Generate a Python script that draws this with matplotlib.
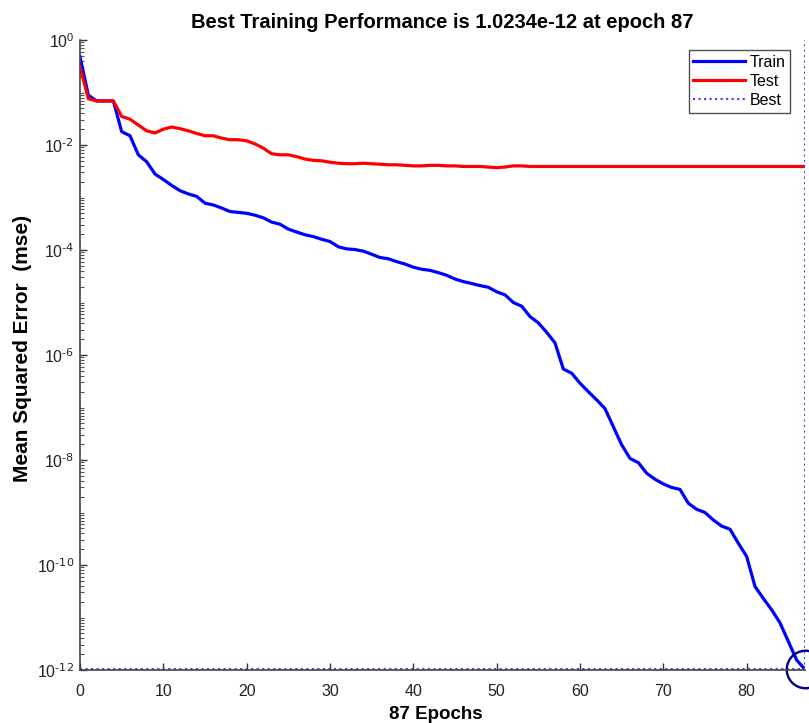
import matplotlib
matplotlib.use('Agg')
import matplotlib.pyplot as plt
from matplotlib.ticker import FixedLocator, LogLocator, NullFormatter

plt.rcParams['font.family'] = ['Liberation Sans', 'DejaVu Sans']
plt.rcParams['mathtext.default'] = 'regular'

# performance record (87 epochs)
epochs = list(range(0, 88))
train_mse = [
    4.8e-1, 8.9e-2, 6.9e-2, 6.9e-2, 6.9e-2, 1.8e-2, 1.5e-2, 6.5e-3, 4.8e-3, 2.8e-3,
    2.2e-3, 1.7e-3, 1.35e-3, 1.17e-3, 1.05e-3, 7.8e-4, 7.2e-4, 6.3e-4, 5.4e-4, 5.2e-4,
    5.0e-4, 4.6e-4, 4.1e-4, 3.4e-4, 3.1e-4, 2.5e-4, 2.2e-4, 1.95e-4, 1.8e-4, 1.6e-4,
    1.45e-4, 1.15e-4, 1.05e-4, 1.02e-4, 9.5e-5, 8.3e-5, 7.2e-5, 6.8e-5, 6.0e-5, 5.4e-5,
    4.7e-5, 4.3e-5, 4.1e-5, 3.7e-5, 3.3e-5, 2.8e-5, 2.5e-5, 2.3e-5, 2.1e-5, 1.95e-5,
    1.6e-5, 1.4e-5, 1.0e-5, 8.5e-6, 5.4e-6, 4.1e-6, 2.7e-6, 1.7e-6, 5.4e-7, 4.5e-7,
    2.9e-7, 2.0e-7, 1.4e-7, 9.5e-8, 4.3e-8, 1.95e-8, 1.07e-8, 8.9e-9, 5.6e-9, 4.3e-9,
    3.5e-9, 3.0e-9, 2.75e-9, 1.5e-9, 1.15e-9, 1.0e-9, 7.2e-10, 5.5e-10, 4.8e-10, 2.6e-10,
    1.45e-10, 3.9e-11, 2.3e-11, 1.4e-11, 7.9e-12, 3.5e-12, 1.55e-12, 1.0234e-12,
]
test_mse = [
    3.1e-1, 7.6e-2, 6.9e-2, 6.9e-2, 6.9e-2, 3.5e-2, 3.1e-2, 2.4e-2, 1.86e-2, 1.7e-2,
    2.0e-2, 2.2e-2, 2.05e-2, 1.86e-2, 1.66e-2, 1.5e-2, 1.5e-2, 1.35e-2, 1.26e-2, 1.26e-2,
    1.2e-2, 1.05e-2, 8.7e-3, 6.8e-3, 6.5e-3, 6.5e-3, 6.0e-3, 5.4e-3, 5.1e-3, 5.0e-3,
    4.7e-3, 4.5e-3, 4.4e-3, 4.4e-3, 4.5e-3, 4.4e-3, 4.3e-3, 4.2e-3, 4.2e-3, 4.1e-3,
    4.0e-3, 4.0e-3, 4.1e-3, 4.1e-3, 4.0e-3, 4.0e-3, 3.9e-3, 3.9e-3, 3.9e-3, 3.8e-3,
    3.7e-3, 3.8e-3, 4.0e-3, 4.0e-3, 3.9e-3, 3.9e-3, 3.9e-3, 3.9e-3, 3.9e-3, 3.9e-3,
    3.9e-3, 3.9e-3, 3.9e-3, 3.9e-3, 3.9e-3, 3.9e-3, 3.9e-3, 3.9e-3, 3.9e-3, 3.9e-3,
    3.9e-3, 3.9e-3, 3.9e-3, 3.9e-3, 3.9e-3, 3.9e-3, 3.9e-3, 3.9e-3, 3.9e-3, 3.9e-3,
    3.9e-3, 3.9e-3, 3.9e-3, 3.9e-3, 3.9e-3, 3.9e-3, 3.9e-3, 3.9e-3,
]
best_epoch = 87
best_perf = 1.0234e-12
xticks = [0, 10, 20, 30, 40, 50, 60, 70, 80]
yticks = [1e0, 1e-2, 1e-4, 1e-6, 1e-8, 1e-10, 1e-12]
ytick_labels = ['$10^{0}$', '$10^{\\text{-2}}$', '$10^{\\text{-4}}$', '$10^{\\text{-6}}$',
                '$10^{\\text{-8}}$', '$10^{\\text{-10}}$', '$10^{\\text{-12}}$']

fig = plt.figure(figsize=(8.09, 7.23), dpi=100)
ax = fig.add_axes([80 / 809, 53 / 723, 725 / 809, 630 / 723])

ax.plot(epochs, train_mse, color='#0000ff', lw=2.3, label='Train')
ax.plot(epochs, test_mse, color='#ff0000', lw=2.3, label='Test')
ax.axvline(best_epoch, color='#3a3aff', ls=':', lw=1.5, label='Best')
ax.axhline(best_perf, color='#3a3aff', ls=':', lw=1.5)
ax.plot([best_epoch], [best_perf], 'o', ms=27, mfc='none', mec='#000080', mew=1.7,
        clip_on=False)

ax.set_yscale('log')
ax.set_xlim(0, 87)
ax.set_ylim(1e-12, 1)

ax.xaxis.set_major_locator(FixedLocator(xticks))
ax.yaxis.set_major_locator(FixedLocator(yticks))
ax.set_yticklabels(ytick_labels)
ax.yaxis.set_minor_locator(LogLocator(base=10, subs=range(1, 10), numticks=40))
ax.yaxis.set_minor_formatter(NullFormatter())

ax.tick_params(axis='both', which='major', direction='in', length=5, width=1,
               colors='#333333', labelcolor='#222222', labelsize=11.5)
ax.tick_params(axis='y', which='minor', direction='in', length=3, width=0.8,
               colors='#555555')
ax.tick_params(axis='x', pad=10)
ax.tick_params(axis='y', pad=4)

for side in ['top', 'right']:
    ax.spines[side].set_visible(False)
for side in ['left', 'bottom']:
    ax.spines[side].set_color('#444444')
    ax.spines[side].set_linewidth(1.2)

ax.set_title('Best Training Performance is 1.0234e-12 at epoch 87',
             fontsize=14.5, fontweight='bold', pad=9)
ax.set_ylabel('Mean Squared Error  (mse)', fontsize=15, fontweight='bold')
ax.yaxis.set_label_coords(-0.066, 0.51)
ax.set_xlabel('87 Epochs', fontsize=13.5, fontweight='bold')
ax.xaxis.set_label_coords(0.491, -0.057)

leg = ax.legend(loc='upper right', bbox_to_anchor=(790 / 809, 1 - 50 / 723),
                bbox_transform=fig.transFigure, fontsize=11.5, frameon=True,
                fancybox=False, edgecolor='#222222', handlelength=3.2,
                borderpad=0.3, labelspacing=0.25, handletextpad=0.3,
                borderaxespad=0)
leg.get_frame().set_linewidth(1.0)

fig.savefig('out.png', dpi=100)
